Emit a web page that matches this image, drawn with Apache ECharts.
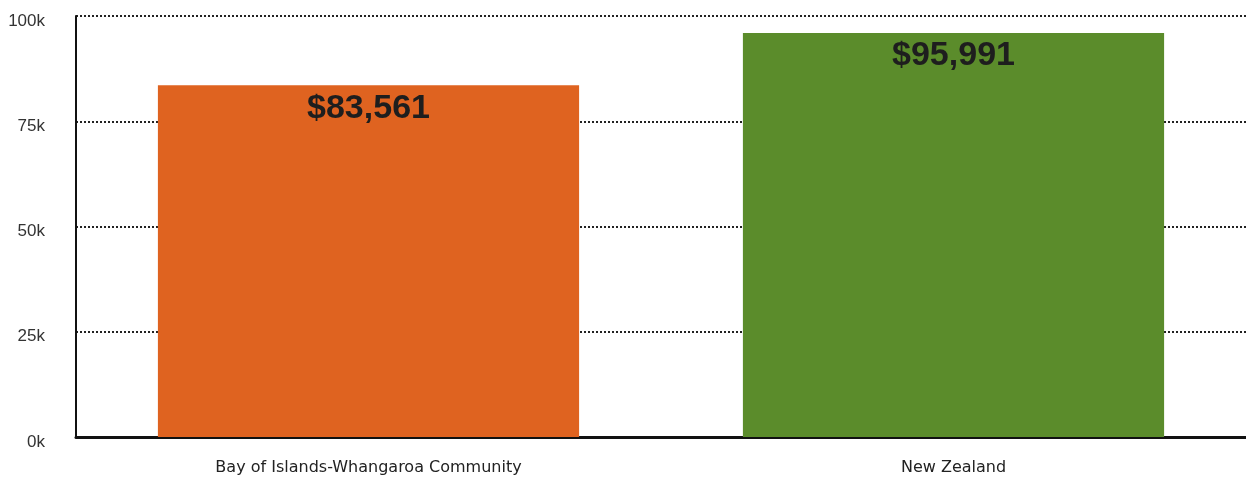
<!DOCTYPE html>
<html><head><meta charset="utf-8">
<script src="https://cdn.jsdelivr.net/npm/echarts@6/dist/echarts.min.js"></script>
<style>html,body{margin:0;padding:0;background:#fff}#c{width:1246px;height:477px}</style>
</head><body><div id="c"></div>
<script>
const categories = ["Bay of Islands-Whangaroa Community", "New Zealand"];
const values = [83561, 95991];
const barColors = ["#DF6320", "#5B8C2B"];
const yTicks = [0, 25000, 50000, 75000, 100000];

const chart = echarts.init(document.getElementById('c'));
chart.setOption({
  animation: false,
  textStyle: { fontFamily: "Liberation Sans, Arial, sans-serif" },
  grid: { left: 76, right: 0, top: 16, bottom: 40 },
  xAxis: {
    type: 'category', data: categories,
    axisLine: { lineStyle: { color: '#111', width: 3 } },
    axisTick: { alignWithLabel: true, length: 7, lineStyle: { color: '#111', width: 1.5 } },
    axisLabel: { color: '#222', fontSize: 16, margin: 23, fontFamily: "DejaVu Sans, sans-serif" }
  },
  yAxis: {
    type: 'value', min: 0, max: 100000, interval: 25000,
    axisLine: { show: true, lineStyle: { color: '#111', width: 2 } },
    axisTick: { show: false },
    axisLabel: { color: '#333', fontSize: 17, margin: 31, verticalAlign: 'top', lineHeight: 10,
      formatter: v => (v/1000) + 'k' },
    splitLine: { lineStyle: { color: '#222', type: [2, 2], width: 2 } }
  },
  series: [{
    type: 'bar', barWidth: '72%',
    data: values.map((v, i) => ({ value: v, itemStyle: { color: barColors[i] } })),
    label: {
      show: true, position: 'insideTop', distance: 6,
      color: '#1e1e1e', fontSize: 34, fontWeight: 'bold',
      fontFamily: "Liberation Sans, Arial, sans-serif",
      formatter: p => '$' + p.value.toLocaleString('en-US')
    }
  }]
});
</script></body></html>
